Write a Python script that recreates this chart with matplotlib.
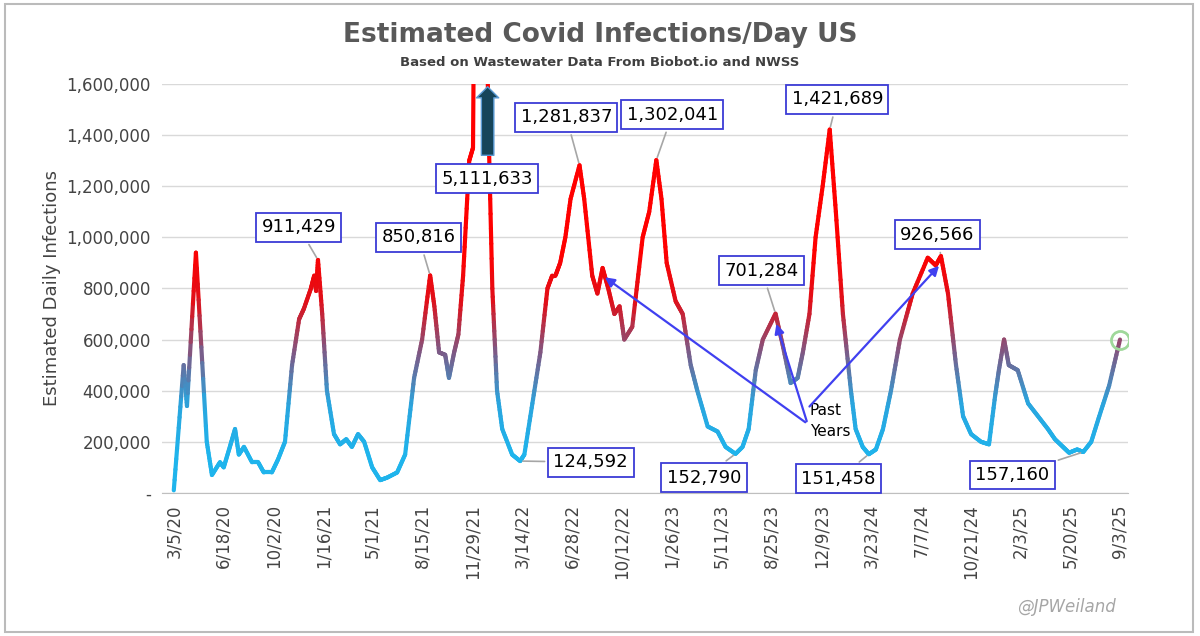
import numpy as np
import pandas as pd
import matplotlib.pyplot as plt
import matplotlib.dates as mdates
from matplotlib.collections import LineCollection
from matplotlib.colors import LinearSegmentedColormap, Normalize

# days after 3/5/20 and estimated infections per day
day_offsets = [0, 21, 28, 47, 70, 81, 98, 106, 119, 130, 138, 149, 166, 179, 191, 208, 221, 236,
               251, 266, 276, 291, 298, 302, 306, 315, 325, 340, 353, 366, 378, 391, 404, 421,
               438, 453, 474, 491, 510, 527, 544, 553, 563, 576, 584, 595, 604, 614, 627, 635,
               650, 659, 667, 676, 686, 697, 718, 735, 744, 761, 778, 793, 803, 810, 820, 831,
               842, 861, 871, 888, 899, 910, 922, 935, 946, 956, 973, 995, 1009, 1024, 1035,
               1046, 1065, 1080, 1097, 1111, 1133, 1154, 1171, 1192, 1207, 1220, 1235, 1250,
               1277, 1292, 1309, 1324, 1335, 1349, 1362, 1377, 1392, 1405, 1420, 1437, 1447,
               1462, 1475, 1490, 1505, 1522, 1541, 1568, 1600, 1617, 1628, 1643, 1660, 1675,
               1692, 1713, 1730, 1743, 1751, 1762, 1772, 1791, 1813, 1834, 1855, 1870, 1887,
               1900, 1917, 1930, 1947, 1964, 1985, 2008]
infections = [10000, 500000, 340000, 940000, 200000, 70000, 120000, 100000, 180000, 250000,
              150000, 180000, 120000, 120000, 80000, 80000, 130000, 200000, 500000, 680000,
              720000, 800000, 850000, 790000, 911429, 700000, 400000, 230000, 190000, 210000,
              180000, 230000, 200000, 100000, 50000, 60000, 80000, 150000, 450000, 600000,
              850816, 730000, 550000, 540000, 450000, 550000, 620000, 850000, 1300000, 1350000,
              5111633, 3000000, 1500000, 800000, 400000, 250000, 150000, 124592, 150000, 350000,
              550000, 800000, 850000, 850000, 900000, 1000000, 1150000, 1281837, 1150000,
              850000, 780000, 880000, 800000, 700000, 730000, 600000, 650000, 1000000, 1100000,
              1302041, 1150000, 900000, 750000, 700000, 500000, 400000, 260000, 240000, 180000,
              152790, 180000, 250000, 480000, 600000, 701284, 580000, 430000, 450000, 550000,
              700000, 1000000, 1200000, 1421689, 1100000, 700000, 400000, 250000, 180000,
              151458, 170000, 250000, 400000, 600000, 780000, 920000, 890000, 926566, 780000,
              500000, 300000, 230000, 200000, 190000, 380000, 480000, 600000, 500000, 480000,
              350000, 300000, 250000, 210000, 180000, 157160, 170000, 160000, 200000, 300000,
              420000, 600000]

tick_labels = ['3/5/20', '6/18/20', '10/2/20', '1/16/21', '5/1/21', '8/15/21', '11/29/21',
               '3/14/22', '6/28/22', '10/12/22', '1/26/23', '5/11/23', '8/25/23', '12/9/23',
               '3/23/24', '7/7/24', '10/21/24', '2/3/25', '5/20/25', '9/3/25']

start = pd.Timestamp('2020-03-05')
dates = start + pd.to_timedelta(day_offsets, unit='D')
x = mdates.date2num(dates)
y = np.array(infections, dtype=float)
tick_pos = mdates.date2num(pd.to_datetime(tick_labels, format='%m/%d/%y'))

fig = plt.figure(figsize=(12, 6.36), dpi=100)
fig.patches.append(plt.Rectangle((0.004, 0.006), 0.99, 0.988, transform=fig.transFigure,
                                 fill=False, edgecolor='#bbbbbb', lw=1.5))
ax = fig.add_axes([0.135, 0.225, 0.805, 0.643])

cmap = LinearSegmentedColormap.from_list('cv', ['#1fb4ec', '#2aa5de', '#7d5a86', '#e0101a', '#ff0000'])
norm = Normalize(150000, 950000)
# split each segment into short pieces so the colour fades smoothly along the line
segs, vals = [], []
for i in range(len(x) - 1):
    t = np.linspace(0, 1, 13)
    xs = x[i] + (x[i + 1] - x[i]) * t
    ys = y[i] + (y[i + 1] - y[i]) * t
    for j in range(12):
        segs.append([(xs[j], ys[j]), (xs[j + 1], ys[j + 1])])
        vals.append((ys[j] + ys[j + 1]) / 2)
lc = LineCollection(segs, cmap=cmap, norm=norm, linewidth=3, capstyle='round', joinstyle='round')
lc.set_array(np.array(vals))
ax.add_collection(lc)
ax.plot(x[-1], y[-1], 'o', ms=13, mfc='none', mec='#9fd89a', mew=2, zorder=5)

ax.set_xlim(x[0] - 25, x[-1] + 17)
ax.set_ylim(0, 1600000)
ax.set_yticks(np.arange(0, 1600001, 200000))
ax.set_yticklabels(['-'] + [f'{v:,}' for v in range(200000, 1600001, 200000)], fontsize=12, color='#444444')
ax.set_xticks(tick_pos)
ax.set_xticklabels(tick_labels, rotation=90, fontsize=12, color='#444444')
ax.grid(axis='y', color='#d9d9d9', lw=1)
ax.set_axisbelow(True)
for s in ['top', 'right', 'left']:
    ax.spines[s].set_visible(False)
ax.spines['bottom'].set_color('#bfbfbf')
ax.tick_params(length=0, pad=8)
ax.set_ylabel('Estimated Daily Infections', fontsize=13, color='#444444')

fig.text(0.5, 0.945, 'Estimated Covid Infections/Day US', ha='center', va='center',
         fontsize=19, fontweight='bold', color='#595959')
fig.text(0.5, 0.902, 'Based on Wastewater Data From Biobot.io and NWSS', ha='center', va='center',
         fontsize=9.5, fontweight='bold', color='#404040')
fig.text(0.93, 0.045, '@JPWeiland', ha='right', va='center', fontsize=12, style='italic', color='#a6a6a6')

box = dict(boxstyle='square,pad=0.3', fc='white', ec='#3b3bd6', lw=1.3)
def day(d):
    return mdates.date2num(start + pd.Timedelta(days=d))

labels = [  # (value index, text x day, text y, label)
    (24, 265, 1040000, '911,429'),
    (40, 520, 1000000, '850,816'),
    (67, 833, 1470000, '1,281,837'),
    (79, 1058, 1480000, '1,302,041'),
    (94, 1248, 870000, '701,284'),
    (102, 1408, 1540000, '1,421,689'),
    (116, 1620, 1010000, '926,566'),
    (57, 885, 120000, '124,592'),
    (89, 1125, 60000, '152,790'),
    (108, 1411, 55000, '151,458'),
    (135, 1780, 70000, '157,160'),
]
for i, tx, ty, txt in labels:
    ax.annotate(txt, xy=(x[i], y[i]), xytext=(day(tx), ty), ha='center', va='center',
                fontsize=13, bbox=box, arrowprops=dict(arrowstyle='-', color='#a6a6a6', lw=1.2))

ax.text(day(665), 1230000, f'{infections[50]:,}', ha='center', va='center', fontsize=13, bbox=box)
ax.annotate('', xy=(day(666), 1600000), xytext=(day(666), 1310000),
            arrowprops=dict(arrowstyle='simple,head_width=1.6,head_length=0.8,tail_width=0.9',
                            fc='#16455a', ec='#5b9bd5', lw=1))

ax.text(day(1350), 280000, 'Past\nYears', ha='left', va='center', fontsize=11, linespacing=1.5)
for i in [71, 94, 116]:
    ax.annotate('', xy=(x[i], y[i] - 30000), xytext=(day(1345), 270000 if i != 116 else 330000),
                arrowprops=dict(arrowstyle='-|>', color='#4040f0', lw=1.6, mutation_scale=14))

fig.savefig('out.png', dpi=100)
